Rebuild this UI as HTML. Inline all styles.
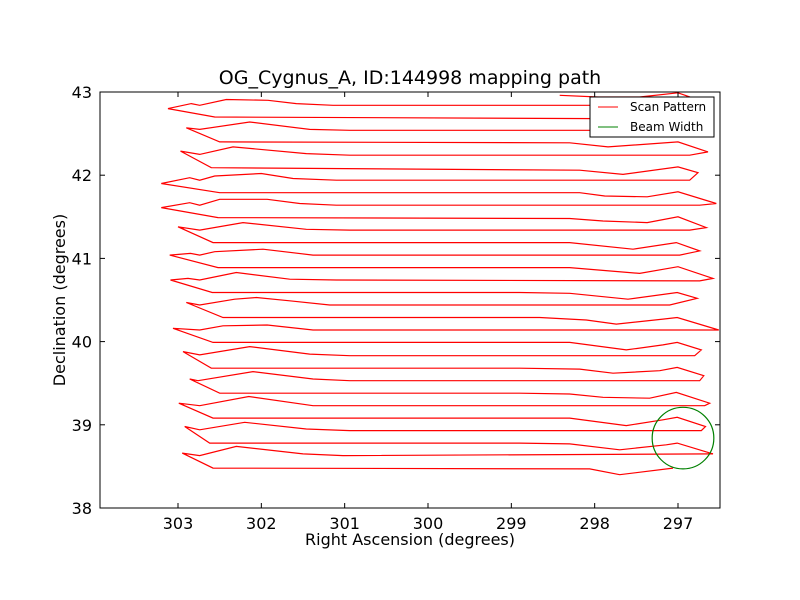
<!DOCTYPE html>
<html><head><meta charset="utf-8"><style>
body{margin:0;background:#fff;}
svg{display:block;font-family:"DejaVu Sans","Liberation Sans",sans-serif;}
</style></head><body>
<svg id="chart" width="800" height="600" viewBox="0 0 800 600" xmlns="http://www.w3.org/2000/svg">
<rect x="0" y="0" width="800" height="600" fill="#fff"/>
<defs><clipPath id="clip"><rect x="100" y="92" width="620" height="416"/></clipPath></defs>
<text x="410" y="84" font-size="19" text-anchor="middle">OG_Cygnus_A, ID:144998 mapping path</text>
<g id="plot" clip-path="url(#clip)"></g>
<rect x="100" y="92" width="620" height="416" fill="none" stroke="#000" stroke-width="1"/>
<g id="ticks"></g>
<text x="410" y="545" font-size="16" text-anchor="middle">Right Ascension (degrees)</text>
<text transform="translate(65,300) rotate(-90)" font-size="16" text-anchor="middle">Declination (degrees)</text>
<g>
<rect x="590" y="97" width="124" height="40" fill="#fff" stroke="#000" stroke-width="1"/>
<line x1="598" y1="107" x2="618" y2="107" stroke="#f00" stroke-width="1"/>
<text x="630" y="111" font-size="12">Scan Pattern</text>
<line x1="598" y1="127" x2="618" y2="127" stroke="#008000" stroke-width="1"/>
<text x="630" y="131" font-size="12">Beam Width</text>
</g>
</svg>
<script>
const raPath = [
297.06,297.70,298.06,302.58,302.95,
302.74,302.30,301.50,301.02,296.58,
297.01,297.14,297.70,298.30,298.90,302.62,302.92,
302.74,302.20,301.46,300.94,296.72,296.67,
297.01,297.18,297.62,298.30,302.58,302.99,
302.74,302.15,301.38,300.94,296.68,296.62,
297.02,297.34,297.90,298.30,298.90,302.50,302.86,
302.76,302.10,301.38,300.94,296.74,296.69,
297.01,297.22,297.78,298.18,298.90,302.60,302.94,
302.74,302.14,301.42,300.94,296.80,296.72,
297.01,297.18,297.62,298.30,302.58,303.06,
302.74,302.46,301.93,301.38,300.94,296.51,
297.01,297.18,297.74,298.10,298.66,302.46,302.90,
302.74,302.32,302.06,301.66,301.18,297.10,296.77,
297.01,297.60,298.30,298.90,302.59,303.09,
302.88,302.74,302.30,301.66,301.10,296.74,296.58,
297.00,297.46,298.30,302.52,303.10,
302.85,302.74,302.56,301.98,301.38,300.94,296.98,296.74,
297.02,297.54,298.30,302.58,303.00,
302.74,302.22,301.46,300.94,296.86,296.66,
297.00,297.37,297.90,298.30,302.52,303.20,
302.86,302.74,302.50,301.93,301.54,301.10,296.74,296.54,
297.00,297.37,297.88,298.18,302.50,303.20,
302.86,302.74,302.56,302.00,301.62,301.10,296.86,296.76,
297.00,297.66,298.18,302.60,302.97,
302.74,302.34,301.46,300.94,296.86,296.64,
297.00,297.84,298.30,302.50,302.90,
302.74,302.14,301.42,300.94,296.86,296.70,
297.00,297.46,297.96,302.56,303.12,
302.84,302.74,302.42,301.92,301.58,301.14,296.98,296.77,
297.00,297.46,297.96,298.42
];
const decPath = [
38.48,38.40,38.47,38.48,38.66,
38.63,38.74,38.65,38.63,38.65,
38.78,38.76,38.70,38.77,38.78,38.78,38.98,
38.94,39.03,38.95,38.93,38.93,38.98,
39.09,39.06,38.99,39.08,39.08,39.26,
39.23,39.34,39.23,39.23,39.23,39.26,
39.39,39.32,39.33,39.37,39.38,39.38,39.55,
39.53,39.64,39.55,39.53,39.53,39.59,
39.69,39.65,39.62,39.67,39.68,39.68,39.88,
39.84,39.94,39.85,39.83,39.83,39.90,
39.99,39.96,39.90,39.99,39.99,40.16,
40.14,40.19,40.20,40.14,40.14,40.14,
40.29,40.27,40.21,40.26,40.29,40.29,40.47,
40.44,40.51,40.53,40.49,40.44,40.44,40.52,
40.59,40.51,40.58,40.59,40.59,40.74,
40.76,40.74,40.83,40.75,40.74,40.73,40.76,
40.90,40.82,40.89,40.89,41.04,
41.06,41.04,41.08,41.11,41.04,41.04,41.04,41.09,
41.19,41.11,41.19,41.19,41.38,
41.34,41.43,41.35,41.34,41.34,41.37,
41.50,41.43,41.45,41.48,41.49,41.61,
41.67,41.64,41.71,41.71,41.66,41.64,41.64,41.66,
41.80,41.74,41.75,41.79,41.79,41.90,
41.97,41.94,41.99,42.02,41.96,41.94,41.94,42.03,
42.10,42.01,42.06,42.09,42.29,
42.25,42.34,42.26,42.24,42.24,42.28,
42.40,42.34,42.39,42.40,42.57,
42.55,42.64,42.55,42.54,42.54,42.59,
42.70,42.65,42.68,42.70,42.80,
42.86,42.84,42.91,42.90,42.86,42.84,42.84,42.91,
42.99,42.94,42.94,42.96
];
const beamCenterRA = [296.94];
const beamCenterDec = [38.84];
const beamRadius = [0.37];
const xTicks = [303,302,301,300,299,298,297];
const yTicks = [38,39,40,41,42,43];
const xDomain = [303.936, 296.496];
const yDomain = [38, 43];

const NS='http://www.w3.org/2000/svg';
const X0=100,X1=720,Y0=92,Y1=508;
function xs(v){return X0+(v-xDomain[0])/(xDomain[1]-xDomain[0])*(X1-X0);}
function ys(v){return Y1-(v-yDomain[0])/(yDomain[1]-yDomain[0])*(Y1-Y0);}
function mk(tag,attrs,parent){const e=document.createElementNS(NS,tag);for(const k in attrs)e.setAttribute(k,attrs[k]);parent.appendChild(e);return e;}
const plot=document.getElementById('plot');
const pts=raPath.map((r,i)=>xs(r).toFixed(1)+','+ys(decPath[i]).toFixed(1)).join(' ');
const pl=mk('polyline',{points:pts,fill:'none',stroke:'#f00','stroke-width':1.2,'stroke-linejoin':'miter'},plot);


for(let i=0;i<beamCenterRA.length;i++){
  const cx=xs(beamCenterRA[i]),cy=ys(beamCenterDec[i]);
  const rx=Math.abs(xs(beamCenterRA[i]+beamRadius[i])-cx),ry=Math.abs(ys(beamCenterDec[i]+beamRadius[i])-cy);
  const c=mk('ellipse',{cx:cx,cy:cy,rx:rx,ry:ry,fill:'none',stroke:'#008000','stroke-width':1.2},plot);
  
  
}
const tk=document.getElementById('ticks');
xTicks.forEach(t=>{
  const x=xs(t);
  const a=mk('line',{x1:x,y1:Y1,x2:x,y2:Y1-5,stroke:'#000'},tk);
  
  
  const b=mk('line',{x1:x,y1:Y0,x2:x,y2:Y0+5,stroke:'#000'},tk);
  
  
  const l=mk('text',{x:x,y:Y1+21,'font-size':16,'text-anchor':'middle'},tk);
  l.textContent=t;
  
  
});
yTicks.forEach(t=>{
  const y=ys(t);
  const a=mk('line',{x1:X0,y1:y,x2:X0+5,y2:y,stroke:'#000'},tk);
  
  
  const b=mk('line',{x1:X1,y1:y,x2:X1-5,y2:y,stroke:'#000'},tk);
  
  
  const l=mk('text',{x:X0-8,y:y+6,'font-size':16,'text-anchor':'end'},tk);
  l.textContent=t;
  
  
});
</script>
</body></html>
